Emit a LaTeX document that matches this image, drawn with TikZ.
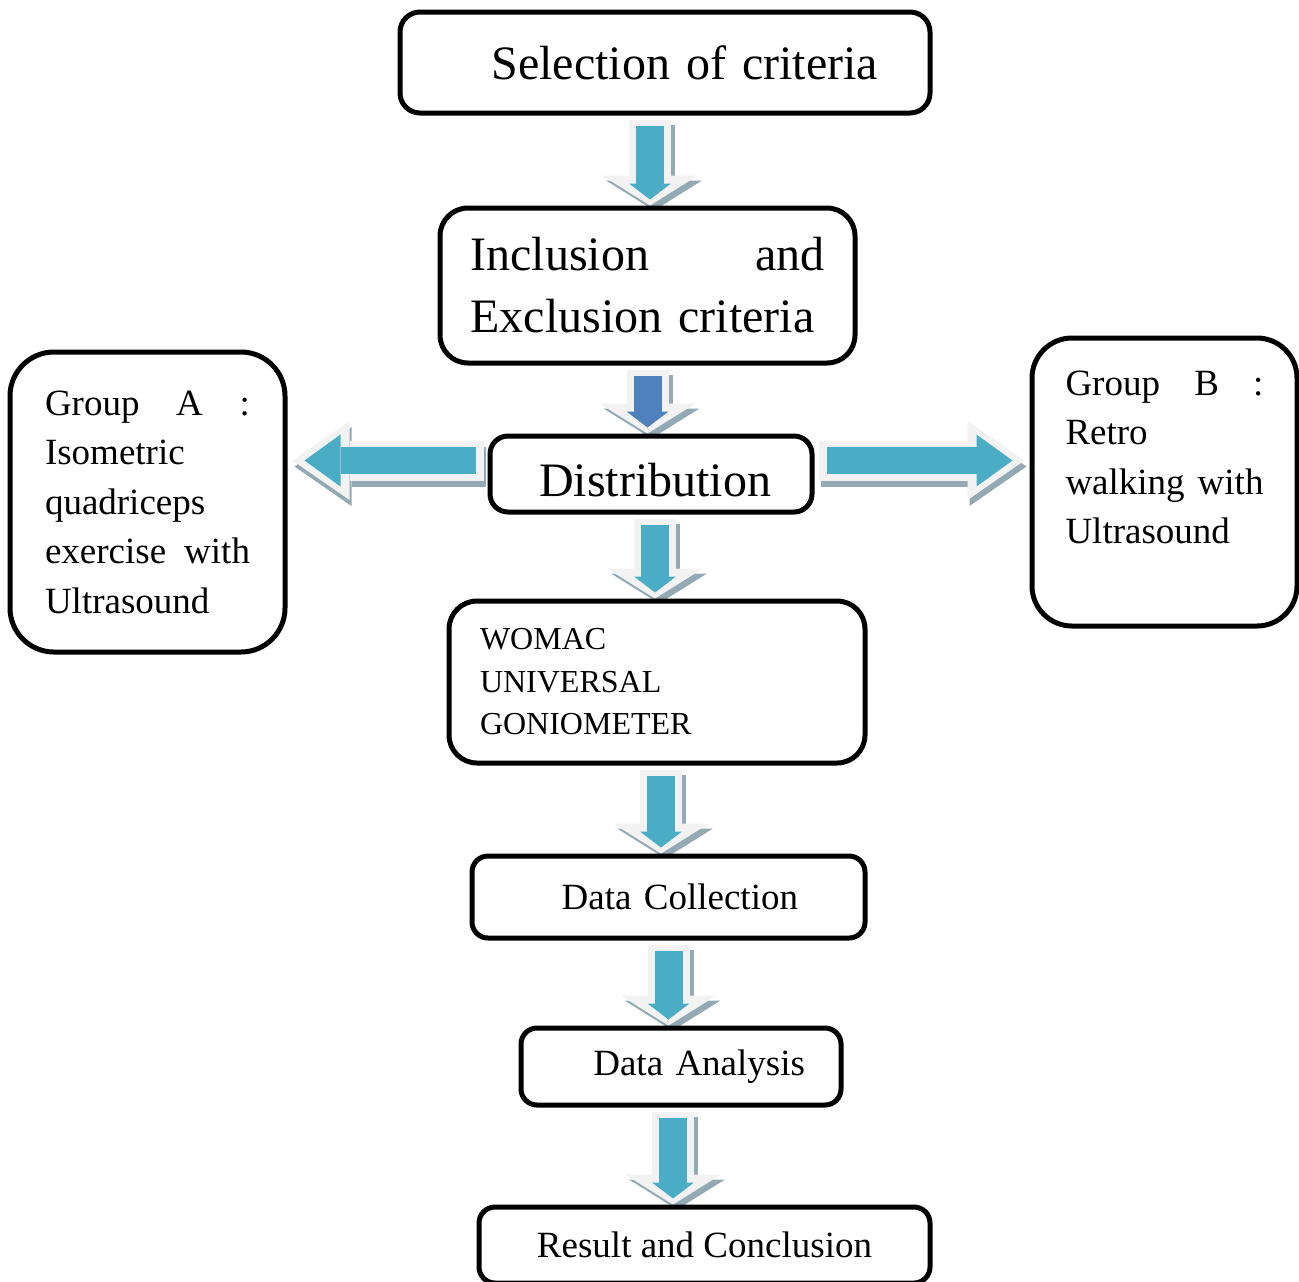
\documentclass[tikz,border=0pt]{standalone}
\usepackage{fontspec}
\setmainfont{Liberation Serif}
\usetikzlibrary{arrows.meta, calc, backgrounds}

\definecolor{arrowblue}{HTML}{4BACC6}
\definecolor{arrowdark}{HTML}{4F81BD}
\definecolor{arrowrim}{HTML}{F2F2F2}
\definecolor{arrowshadow}{HTML}{93AAB4}

\newcommand{\fillgap}{\hspace{0pt plus 1filll}}

\begin{document}
\begin{tikzpicture}[
    x=0.5pt, y=-0.5pt,
    box/.style={draw, line width=2.5pt, fill=white, inner sep=0pt},
    big/.style={font=\fontsize{24}{31}\selectfont},
    mid/.style={font=\fontsize{18.5}{24.75}\selectfont},
    small/.style={font=\fontsize{16}{21.25}\selectfont},
    % vertical block arrows
    downshadow/.style={draw=arrowshadow, line width=21pt, shorten <=2pt,
        -{Triangle[width=48pt,length=15pt,line width=0pt]},
        transform canvas={shift={(2pt,-2.5pt)}}},
    downrim/.style={draw=arrowrim, line width=21pt, shorten <=2pt,
        -{Triangle[width=48pt,length=15pt,line width=0pt]}},
    downfill/.style={draw=#1, line width=14pt, shorten <=5pt, shorten >=3pt,
        -{Triangle[width=21pt,length=8pt,line width=0pt]}},
    % side block arrows
    sideshadow/.style={draw=arrowshadow, line width=20pt, shorten <=2pt, shorten >=2.5pt,
        -{Triangle[width=39.5pt,length=28.5pt,line width=0pt]},
        transform canvas={shift={(1pt,-3pt)}}},
    siderim/.style={draw=arrowrim, line width=20pt, shorten <=2pt, shorten >=2.5pt,
        -{Triangle[width=39.5pt,length=28.5pt,line width=0pt]}},
    sidefill/.style={draw=arrowblue, line width=13.5pt, shorten <=6pt, shorten >=8.5pt,
        -{Triangle[width=26pt,length=18pt,line width=0pt]}},
]
    \useasboundingbox (0,0) rectangle (1299,1281);

    \node[box, big, rounded corners=10pt, minimum width=265pt, minimum height=50.5pt,
          text width=213pt, align=right] (sel) at (665,62.5) {Selection of criteria};
    \node[box, big, rounded corners=14pt, minimum width=207.5pt, minimum height=77.5pt,
          text width=177pt, align=left] (incl) at (647.5,285.5)
          {Inclusion\fillgap and\\Exclusion criteria};
    \node[box, big, rounded corners=9pt, minimum width=161pt, minimum height=38pt,
          text width=120pt, align=right, text height=22.5pt, text depth=0pt]
          (dist) at (651,474) {Distribution};
    \node[box, mid, rounded corners=22pt, minimum width=137.5pt, minimum height=150pt,
          text width=102.5pt, align=left] (grpA) at (147.5,502)
          {Group\fillgap A\fillgap :\\Isometric\\quadriceps\\exercise\fillgap with\\Ultrasound};
    \node[box, mid, rounded corners=20pt, minimum width=132.5pt, minimum height=144pt,
          text width=99pt, align=left] (grpB) at (1164.5,482)
          {Group\fillgap B\fillgap :\\Retro\\walking\fillgap with\\Ultrasound\\\mbox{}};
    \node[box, small, rounded corners=14pt, minimum width=208pt, minimum height=81pt,
          text width=177pt, align=left] (womac) at (657,682)
          {WOMAC\\UNIVERSAL\\GONIOMETER};
    \node[box, mid, rounded corners=8pt, minimum width=196.5pt, minimum height=41pt,
          text width=129.5pt, align=right] (datacoll) at (668.5,897) {Data Collection};
    \node[box, mid, rounded corners=8pt, minimum width=160pt, minimum height=38.5pt,
          text width=124pt, align=right] (analysis) at (681,1066.5) {Data Analysis};
    \node[box, mid, rounded corners=8pt, minimum width=225.5pt, minimum height=38pt,
          align=center] (result) at (704.5,1245) {Result and Conclusion};

    \begin{scope}[on background layer]
        % down the middle
        \foreach \src/\dst/\dx/\col in {sel/incl/-7.5pt/arrowblue,
                                        incl/dist/0pt/arrowdark,
                                        dist/womac/2pt/arrowblue,
                                        womac/datacoll/2pt/arrowblue,
                                        datacoll/analysis/0pt/arrowblue,
                                        analysis/result/-4pt/arrowblue}
        {
            \draw[downshadow] ($(\src.south)+(\dx,0pt)$) -- ($(\src.south |- \dst.north)+(\dx,0pt)$);
            \draw[downrim]    ($(\src.south)+(\dx,0pt)$) -- ($(\src.south |- \dst.north)+(\dx,0pt)$);
            \draw[downfill=\col] ($(\src.south)+(\dx,0pt)$) -- ($(\src.south |- \dst.north)+(\dx,0pt)$);
        }

        % out to the two groups
        \foreach \from/\to in {west/grpA.east, east/grpB.west}
        {
            \draw[sideshadow] ($(dist.\from)+(0pt,6.75pt)$) -- ($(dist.\from -| \to)+(0pt,6.75pt)$);
            \draw[siderim]    ($(dist.\from)+(0pt,6.75pt)$) -- ($(dist.\from -| \to)+(0pt,6.75pt)$);
            \draw[sidefill]   ($(dist.\from)+(0pt,6.75pt)$) -- ($(dist.\from -| \to)+(0pt,6.75pt)$);
        }
    \end{scope}
\end{tikzpicture}
\end{document}
